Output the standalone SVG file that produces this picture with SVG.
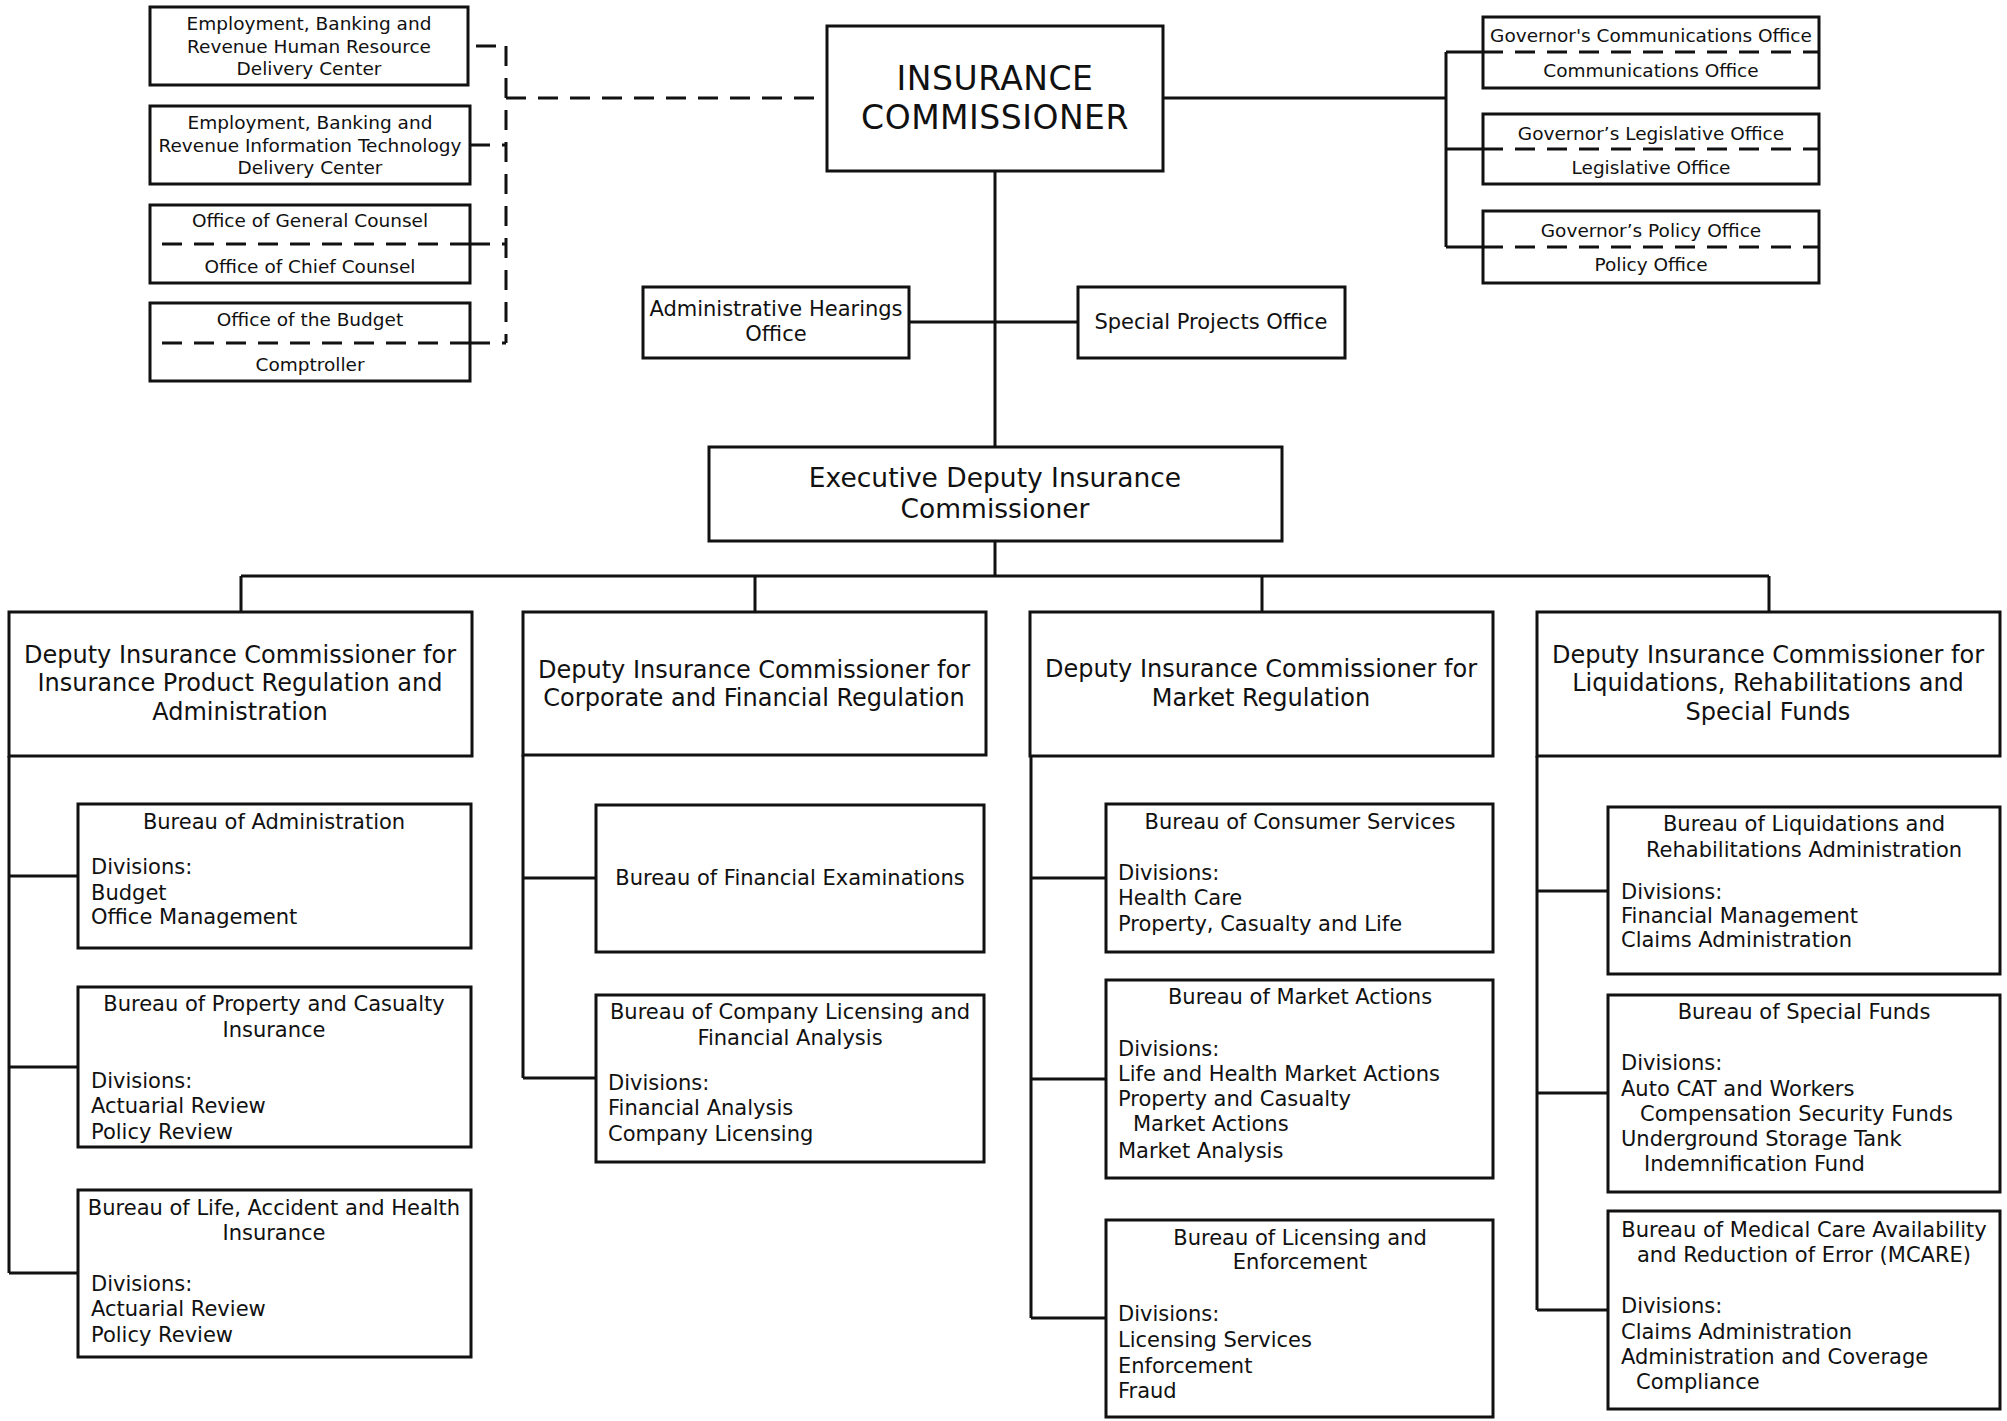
<svg xmlns="http://www.w3.org/2000/svg" width="2007" height="1421" viewBox="0 0 2007 1421">
<style>
.box{fill:#fff;stroke:#111;stroke-width:3}
.ln{fill:none;stroke:#111;stroke-width:3}
.dash{stroke-dasharray:20 12}
text{font-family:"DejaVu Sans",Verdana,sans-serif;fill:#111;dominant-baseline:central}
.c{text-anchor:middle}
.s18{font-size:18.5px}
.s21{font-size:21px}
.s24{font-size:24px}
.s26{font-size:26.5px}
.s33{font-size:33px;letter-spacing:0.5px}
</style>
<rect width="2007" height="1421" fill="#fff"/>
<g id="connectors">
<path class="ln dash" d="M506,98 H827"/>
<path class="ln dash" d="M506,46 V343"/>
<path class="ln dash" d="M476,46 H506"/>
<path class="ln dash" d="M470,145 H506"/>
<path class="ln dash" d="M470,244 H506"/>
<path class="ln dash" d="M470,343 H506"/>
<path class="ln" d="M1163,98 H1446"/>
<path class="ln" d="M1446,52 V247"/>
<path class="ln" d="M1446,52 H1483 M1446,149 H1483 M1446,247 H1483"/>
<path class="ln" d="M995,171 V447"/>
<path class="ln" d="M909,322 H1078"/>
<path class="ln" d="M995,541 V576"/>
<path class="ln" d="M241,576 H1769"/>
<path class="ln" d="M241,576 V612 M755,576 V612 M1262,576 V612 M1769,576 V612"/>
<path class="ln" d="M9,756 V1273 M9,876 H78 M9,1067 H78 M9,1273 H78"/>
<path class="ln" d="M523,755 V1078 M523,878 H596 M523,1078 H596"/>
<path class="ln" d="M1031,756 V1318 M1031,878 H1106 M1031,1079 H1106 M1031,1318 H1106"/>
<path class="ln" d="M1537,756 V1310 M1537,891 H1608 M1537,1093 H1608 M1537,1310 H1608"/>
</g>

<g id="hr-center">
<rect class="box" x="150" y="7" width="318" height="78"/>
<text class="c s18" x="309" y="23">Employment, Banking and</text>
<text class="c s18" x="309" y="46">Revenue Human Resource</text>
<text class="c s18" x="309" y="68">Delivery Center</text>
</g>
<g id="it-center">
<rect class="box" x="150" y="106" width="320" height="78"/>
<text class="c s18" x="310" y="122">Employment, Banking and</text>
<text class="c s18" x="310" y="145">Revenue Information Technology</text>
<text class="c s18" x="310" y="167">Delivery Center</text>
</g>
<g id="general-counsel">
<rect class="box" x="150" y="205" width="320" height="78"/>
<path class="ln dash" d="M162,244 H470"/>
<text class="c s18" x="310" y="220">Office of General Counsel</text>
<text class="c s18" x="310" y="266">Office of Chief Counsel</text>
</g>
<g id="budget">
<rect class="box" x="150" y="303" width="320" height="78"/>
<path class="ln dash" d="M162,343 H470"/>
<text class="c s18" x="310" y="319">Office of the Budget</text>
<text class="c s18" x="310" y="364">Comptroller</text>
</g>

<g id="commissioner">
<rect class="box" x="827" y="26" width="336" height="145"/>
<text class="c s33" x="995" y="78">INSURANCE</text>
<text class="c s33" x="995" y="117">COMMISSIONER</text>
</g>

<g id="gov-comm">
<rect class="box" x="1483" y="17" width="336" height="71"/>
<path class="ln dash" d="M1483,52 H1819"/>
<text class="c s18" x="1651" y="35">Governor's Communications Office</text>
<text class="c s18" x="1651" y="70">Communications Office</text>
</g>
<g id="gov-leg">
<rect class="box" x="1483" y="114" width="336" height="70"/>
<path class="ln dash" d="M1483,149 H1819"/>
<text class="c s18" x="1651" y="133">Governor’s Legislative Office</text>
<text class="c s18" x="1651" y="167">Legislative Office</text>
</g>
<g id="gov-policy">
<rect class="box" x="1483" y="211" width="336" height="72"/>
<path class="ln dash" d="M1483,247 H1819"/>
<text class="c s18" x="1651" y="230">Governor’s Policy Office</text>
<text class="c s18" x="1651" y="264">Policy Office</text>
</g>

<g id="admin-hearings">
<rect class="box" x="643" y="287" width="266" height="71"/>
<text class="c s21" x="776" y="309">Administrative Hearings</text>
<text class="c s21" x="776" y="334">Office</text>
</g>
<g id="special-projects">
<rect class="box" x="1078" y="287" width="267" height="71"/>
<text class="c s21" x="1211" y="322">Special Projects Office</text>
</g>

<g id="exec-deputy">
<rect class="box" x="709" y="447" width="573" height="94"/>
<text class="c s26" x="995" y="477">Executive Deputy Insurance</text>
<text class="c s26" x="995" y="508">Commissioner</text>
</g>

<g id="deputy-product">
<rect class="box" x="9" y="612" width="463" height="144"/>
<text class="c s24" x="240" y="655">Deputy Insurance Commissioner for</text>
<text class="c s24" x="240" y="683">Insurance Product Regulation and</text>
<text class="c s24" x="240" y="712">Administration</text>
</g>
<g id="deputy-corporate">
<rect class="box" x="523" y="612" width="463" height="143"/>
<text class="c s24" x="754" y="670">Deputy Insurance Commissioner for</text>
<text class="c s24" x="754" y="698">Corporate and Financial Regulation</text>
</g>
<g id="deputy-market">
<rect class="box" x="1030" y="612" width="463" height="144"/>
<text class="c s24" x="1261" y="669">Deputy Insurance Commissioner for</text>
<text class="c s24" x="1261" y="698">Market Regulation</text>
</g>
<g id="deputy-liquidations">
<rect class="box" x="1537" y="612" width="463" height="144"/>
<text class="c s24" x="1768" y="655">Deputy Insurance Commissioner for</text>
<text class="c s24" x="1768" y="683">Liquidations, Rehabilitations and</text>
<text class="c s24" x="1768" y="712">Special Funds</text>
</g>

<g id="bureau-administration">
<rect class="box" x="78" y="804" width="393" height="144"/>
<text class="c s21" x="274" y="822">Bureau of Administration</text>
<text class="s21" x="91" y="867">Divisions:</text>
<text class="s21" x="91" y="893">Budget</text>
<text class="s21" x="91" y="917">Office Management</text>
</g>
<g id="bureau-property-casualty">
<rect class="box" x="78" y="987" width="393" height="160"/>
<text class="c s21" x="274" y="1004">Bureau of Property and Casualty</text>
<text class="c s21" x="274" y="1030">Insurance</text>
<text class="s21" x="91" y="1081">Divisions:</text>
<text class="s21" x="91" y="1106">Actuarial Review</text>
<text class="s21" x="91" y="1132">Policy Review</text>
</g>
<g id="bureau-life-accident-health">
<rect class="box" x="78" y="1190" width="393" height="167"/>
<text class="c s21" x="274" y="1208">Bureau of Life, Accident and Health</text>
<text class="c s21" x="274" y="1233">Insurance</text>
<text class="s21" x="91" y="1284">Divisions:</text>
<text class="s21" x="91" y="1309">Actuarial Review</text>
<text class="s21" x="91" y="1335">Policy Review</text>
</g>

<g id="bureau-financial-examinations">
<rect class="box" x="596" y="805" width="388" height="147"/>
<text class="c s21" x="790" y="878">Bureau of Financial Examinations</text>
</g>
<g id="bureau-company-licensing">
<rect class="box" x="596" y="995" width="388" height="167"/>
<text class="c s21" x="790" y="1012">Bureau of Company Licensing and</text>
<text class="c s21" x="790" y="1038">Financial Analysis</text>
<text class="s21" x="608" y="1083">Divisions:</text>
<text class="s21" x="608" y="1108">Financial Analysis</text>
<text class="s21" x="608" y="1134">Company Licensing</text>
</g>

<g id="bureau-consumer-services">
<rect class="box" x="1106" y="804" width="387" height="148"/>
<text class="c s21" x="1300" y="822">Bureau of Consumer Services</text>
<text class="s21" x="1118" y="873">Divisions:</text>
<text class="s21" x="1118" y="898">Health Care</text>
<text class="s21" x="1118" y="924">Property, Casualty and Life</text>
</g>
<g id="bureau-market-actions">
<rect class="box" x="1106" y="980" width="387" height="198"/>
<text class="c s21" x="1300" y="997">Bureau of Market Actions</text>
<text class="s21" x="1118" y="1049">Divisions:</text>
<text class="s21" x="1118" y="1074">Life and Health Market Actions</text>
<text class="s21" x="1118" y="1099">Property and Casualty</text>
<text class="s21" x="1133" y="1124">Market Actions</text>
<text class="s21" x="1118" y="1151">Market Analysis</text>
</g>
<g id="bureau-licensing-enforcement">
<rect class="box" x="1106" y="1220" width="387" height="197"/>
<text class="c s21" x="1300" y="1238">Bureau of Licensing and</text>
<text class="c s21" x="1300" y="1262">Enforcement</text>
<text class="s21" x="1118" y="1314">Divisions:</text>
<text class="s21" x="1118" y="1340">Licensing Services</text>
<text class="s21" x="1118" y="1366">Enforcement</text>
<text class="s21" x="1118" y="1391">Fraud</text>
</g>

<g id="bureau-liquidations">
<rect class="box" x="1608" y="807" width="392" height="167"/>
<text class="c s21" x="1804" y="824">Bureau of Liquidations and</text>
<text class="c s21" x="1804" y="850">Rehabilitations Administration</text>
<text class="s21" x="1621" y="892">Divisions:</text>
<text class="s21" x="1621" y="916">Financial Management</text>
<text class="s21" x="1621" y="940">Claims Administration</text>
</g>
<g id="bureau-special-funds">
<rect class="box" x="1608" y="995" width="392" height="197"/>
<text class="c s21" x="1804" y="1012">Bureau of Special Funds</text>
<text class="s21" x="1621" y="1063">Divisions:</text>
<text class="s21" x="1621" y="1089">Auto CAT and Workers</text>
<text class="s21" x="1640" y="1114">Compensation Security Funds</text>
<text class="s21" x="1621" y="1139">Underground Storage Tank</text>
<text class="s21" x="1644" y="1164">Indemnification Fund</text>
</g>
<g id="bureau-mcare">
<rect class="box" x="1608" y="1211" width="392" height="198"/>
<text class="c s21" x="1804" y="1230">Bureau of Medical Care Availability</text>
<text class="c s21" x="1804" y="1255">and Reduction of Error (MCARE)</text>
<text class="s21" x="1621" y="1306">Divisions:</text>
<text class="s21" x="1621" y="1332">Claims Administration</text>
<text class="s21" x="1621" y="1357">Administration and Coverage</text>
<text class="s21" x="1636" y="1382">Compliance</text>
</g>
</svg>
